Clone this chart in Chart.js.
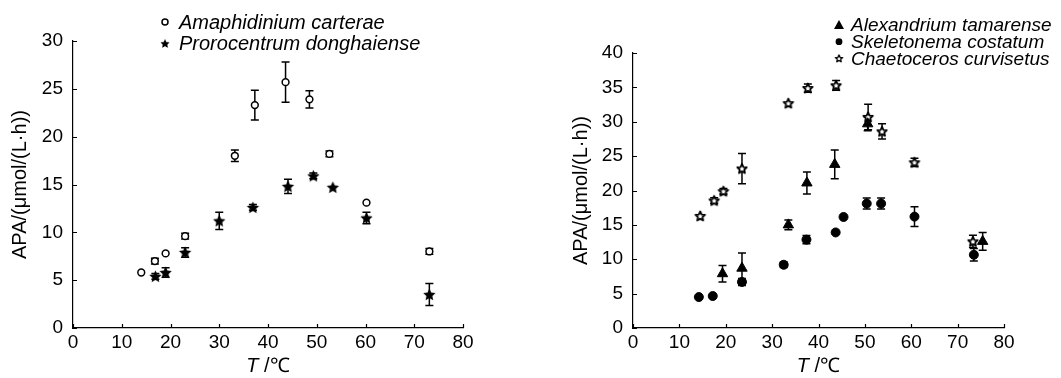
<!DOCTYPE html>
<html>
<head>
<meta charset="utf-8">
<script src="https://cdn.jsdelivr.net/npm/chart.js@4/dist/chart.umd.min.js"></script>
<style>
    body { margin: 0; background: #fff; }
    #wrap { position: relative; width: 1061px; height: 378px; }
    #left { position: absolute; left: 0; top: 0; }
    #right { position: absolute; left: 530px; top: 0; }
</style>
</head>
<body>
<div id="wrap">
    <canvas id="left" width="530" height="378"></canvas>
    <canvas id="right" width="531" height="378"></canvas>
</div>
<script>
// 데이터 (T / ℃, APA, 오차)
const amaT   = [14, 16.8, 19, 23, 33.2, 37.3, 43.6, 48.5, 52.6, 60.2, 73.1];
const amaY   = [5.8, 7.0, 7.8, 9.6, 18.0, 23.3, 25.7, 23.9, 18.2, 13.1, 8.0];
const amaErr = [0, 0.3, 0, 0.3, 0.6, 1.55, 2.1, 0.9, 0.3, 0, 0.3];

const proT   = [16.9, 19, 23, 30, 36.9, 44.1, 49.3, 53.3, 60.2, 73.1];
const proY   = [5.4, 5.8, 7.9, 11.2, 12.6, 14.8, 15.9, 14.7, 11.5, 3.5];
const proErr = [0.3, 0.5, 0.5, 0.9, 0.3, 0.75, 0.3, 0, 0.6, 1.15];

const alxT   = [19.3, 23.5, 33.5, 37.5, 43.5, 50.6, 75.4];
const alxY   = [7.9, 8.7, 15.0, 21.1, 23.8, 29.7, 12.6];
const alxErr = [1.2, 2.2, 0.7, 1.6, 2.1, 1.0, 1.3];

const skeT   = [14.2, 17.2, 23.5, 32.5, 37.4, 43.7, 45.4, 50.4, 53.5, 60.7, 73.5];
const skeY   = [4.5, 4.65, 6.7, 9.2, 12.85, 13.9, 16.15, 18.1, 18.1, 16.2, 10.65];
const skeErr = [0, 0, 0.5, 0.4, 0.6, 0, 0, 0.8, 0.8, 1.45, 0.9];

const chaT   = [14.5, 17.5, 19.5, 23.5, 33.5, 37.7, 43.8, 50.7, 53.7, 60.7, 73.3];
const chaY   = [16.3, 18.55, 19.9, 23.2, 32.7, 34.9, 35.3, 30.7, 28.6, 24.1, 12.6];
const chaErr = [0, 0.4, 0.4, 2.2, 0, 0.6, 0.7, 1.85, 1.1, 0.6, 0.9];

const xTicksMax = 80;
const leftYMax = 30;
const rightYMax = 40;

const toPoints = (xs, ys, errs) => xs.map((x, i) => ({ x: x, y: ys[i], err: errs[i] }));

// 별 모양 마커
function makeStar(r, filled) {
    const size = Math.ceil(r * 2 + 4);
    const c = document.createElement('canvas');
    c.width = size; c.height = size;
    const g = c.getContext('2d');
    const cx = size / 2, cy = size / 2 + 0.5;
    g.beginPath();
    for (let i = 0; i < 10; i++) {
        const rad = i % 2 === 0 ? r : r * 0.48;
        const a = -Math.PI / 2 + i * Math.PI / 5;
        const px = cx + rad * Math.cos(a), py = cy + rad * Math.sin(a);
        if (i === 0) g.moveTo(px, py); else g.lineTo(px, py);
    }
    g.closePath();
    if (filled) {
        g.fillStyle = '#000';
        g.fill();
    } else {
        g.fillStyle = '#fff';
        g.fill();
        g.lineWidth = 1.8;
        g.lineJoin = 'round';
        g.strokeStyle = '#000';
        g.stroke();
    }
    return c;
}

const starFilled = makeStar(6.5, true);
const starOpen = makeStar(5, false);

const FONT = "'Liberation Sans', Arial, sans-serif";

// 오차 막대
const errorBars = {
    id: 'errorBars',
    beforeDatasetsDraw(chart) {
        const ctx = chart.ctx;
        const ys = chart.scales.y;
        ctx.save();
        ctx.strokeStyle = '#000';
        ctx.lineWidth = 1.5;
        chart.data.datasets.forEach((ds, di) => {
            const meta = chart.getDatasetMeta(di);
            ds.data.forEach((p, i) => {
                if (!p.err) return;
                const px = meta.data[i].x;
                const top = ys.getPixelForValue(p.y + p.err);
                const bot = ys.getPixelForValue(p.y - p.err);
                ctx.beginPath();
                ctx.moveTo(px, top); ctx.lineTo(px, bot);
                ctx.moveTo(px - 4, top); ctx.lineTo(px + 4, top);
                ctx.moveTo(px - 4, bot); ctx.lineTo(px + 4, bot);
                ctx.stroke();
            });
        });
        ctx.restore();
    }
};

// 안쪽 눈금 + x축 제목 (T 기울임)
const innerTicks = {
    id: 'innerTicks',
    afterDraw(chart) {
        const ctx = chart.ctx;
        const xs = chart.scales.x, ys = chart.scales.y;
        const area = chart.chartArea;
        ctx.save();
        ctx.strokeStyle = '#000';
        ctx.lineWidth = 1.2;
        ctx.beginPath();
        xs.ticks.forEach(t => {
            const px = Math.round(xs.getPixelForValue(t.value)) + 0.5;
            ctx.moveTo(px, area.bottom); ctx.lineTo(px, area.bottom - 4);
        });
        ys.ticks.forEach(t => {
            const py = Math.round(ys.getPixelForValue(t.value)) + 0.5;
            ctx.moveTo(area.left, py); ctx.lineTo(area.left + 4, py);
        });
        ctx.stroke();

        ctx.fillStyle = '#000';
        ctx.textBaseline = 'middle';
        const partA = 'T', partB = ' /℃';
        ctx.font = 'italic 20px ' + FONT;
        const wA = ctx.measureText(partA).width;
        ctx.font = '20px ' + FONT;
        const wB = ctx.measureText(partB).width;
        const cx = (area.left + area.right) / 2;
        const x0 = cx - (wA + wB) / 2;
        ctx.font = 'italic 20px ' + FONT;
        ctx.fillText(partA, x0, 366);
        ctx.font = '20px ' + FONT;
        ctx.fillText(partB, x0 + wA, 366);
        ctx.restore();
    }
};

// 범례
const sideLegend = {
    id: 'sideLegend',
    afterDraw(chart, args, opts) {
        const ctx = chart.ctx;
        ctx.save();
        ctx.font = 'italic ' + opts.size + 'px ' + FONT;
        ctx.textBaseline = 'middle';
        ctx.fillStyle = '#000';
        chart.data.datasets.forEach((ds, i) => {
            const y = opts.y + i * opts.gap;
            const style = opts.markers[i];
            if (style instanceof HTMLCanvasElement) {
                const w = style.width * 0.75;
                ctx.drawImage(style, opts.x - w / 2, y - w / 2, w, w);
            } else if (style === 'openCircle') {
                ctx.beginPath();
                ctx.arc(opts.x, y, 3, 0, Math.PI * 2);
                ctx.lineWidth = 1.5;
                ctx.strokeStyle = '#000';
                ctx.stroke();
            } else if (style === 'circle') {
                ctx.beginPath();
                ctx.arc(opts.x, y, 3.4, 0, Math.PI * 2);
                ctx.fill();
            } else if (style === 'triangle') {
                ctx.beginPath();
                ctx.moveTo(opts.x, y - 5);
                ctx.lineTo(opts.x + 5, y + 4);
                ctx.lineTo(opts.x - 5, y + 4);
                ctx.closePath();
                ctx.fill();
            }
            ctx.fillText(ds.label, opts.textX, y + 1);
        });
        ctx.restore();
    }
};

function makeOptions(yMax, pad, yWidth, legendOpts) {
    return {
        responsive: false,
        animation: false,
        layout: { padding: pad },
        plugins: {
            legend: { display: false },
            tooltip: { enabled: false },
            sideLegend: legendOpts
        },
        scales: {
            x: {
                type: 'linear',
                min: 0,
                max: xTicksMax,
                grid: { display: false, drawTicks: false },
                border: { display: true, color: '#000', width: 1.2 },
                ticks: { stepSize: 10, color: '#000', padding: 3, font: { family: FONT, size: 19 } },
                afterFit: (s) => { s.height = 50; }
            },
            y: {
                min: 0,
                max: yMax,
                grid: { display: false, drawTicks: false },
                border: { display: true, color: '#000', width: 1.2 },
                ticks: { stepSize: 5, color: '#000', padding: 10, font: { family: FONT, size: 19 } },
                title: {
                    display: true,
                    text: 'APA/(μmol/(L·h))',
                    color: '#000',
                    padding: { top: 3, bottom: 4 },
                    font: { family: FONT, size: 20 }
                },
                afterFit: (s) => { s.width = yWidth; }
            }
        }
    };
}

new Chart(document.getElementById('left').getContext('2d'), {
    type: 'scatter',
    data: {
        datasets: [
            {
                label: 'Amaphidinium carterae',
                data: toPoints(amaT, amaY, amaErr),
                pointStyle: 'circle',
                pointRadius: 3.4,
                backgroundColor: '#fff',
                borderColor: '#000',
                borderWidth: 1.5
            },
            {
                label: 'Prorocentrum donghaiense',
                data: toPoints(proT, proY, proErr),
                pointStyle: starFilled,
                backgroundColor: '#000',
                borderColor: '#000'
            }
        ]
    },
    options: makeOptions(leftYMax, { left: 5, top: 41, right: 67, bottom: 0 }, 68, {
        x: 165, textX: 179, y: 22, gap: 21.5, size: 20, markers: ['openCircle', starFilled]
    }),
    plugins: [errorBars, innerTicks, sideLegend]
});

new Chart(document.getElementById('right').getContext('2d'), {
    type: 'scatter',
    data: {
        datasets: [
            {
                label: 'Alexandrium tamarense',
                data: toPoints(alxT, alxY, alxErr),
                pointStyle: 'triangle',
                pointRadius: 6,
                backgroundColor: '#000',
                borderColor: '#000',
                borderWidth: 1
            },
            {
                label: 'Skeletonema costatum',
                data: toPoints(skeT, skeY, skeErr),
                pointStyle: 'circle',
                pointRadius: 4.5,
                backgroundColor: '#000',
                borderColor: '#000',
                borderWidth: 1
            },
            {
                label: 'Chaetoceros curvisetus',
                data: toPoints(chaT, chaY, chaErr),
                pointStyle: starOpen,
                backgroundColor: '#fff',
                borderColor: '#000'
            }
        ]
    },
    options: makeOptions(rightYMax, { left: 36, top: 53, right: 57, bottom: 0 }, 67, {
        x: 309, textX: 321, y: 25, gap: 16.7, size: 19, markers: ['triangle', 'circle', starOpen]
    }),
    plugins: [errorBars, innerTicks, sideLegend]
});
</script>
</body>
</html>
